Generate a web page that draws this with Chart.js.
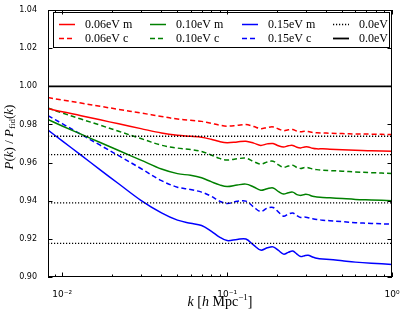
<!DOCTYPE html>
<html>
<head>
<meta charset="utf-8">
<script src="https://cdn.jsdelivr.net/npm/chart.js@4/dist/chart.umd.min.js"></script>
<style>
  body { margin: 0; background: #fff; }
  #wrap { width: 407px; height: 316px; }
</style>
</head>
<body>
<div id="wrap"><canvas id="ratio"></canvas></div>
<script>
// k values (h/Mpc) at which the curves were read
var kValues = [0.0082, 0.01, 0.013, 0.017, 0.022, 0.03, 0.04, 0.05, 0.06, 0.07, 0.08, 0.09,
  0.1, 0.115, 0.13, 0.145, 0.16, 0.175, 0.19, 0.205, 0.22, 0.235, 0.25, 0.265, 0.28, 0.295,
  0.31, 0.33, 0.35, 0.38, 0.42, 0.5, 0.6, 0.75, 1.0];

var m006 = [0.9883, 0.9866, 0.9846, 0.9824, 0.9803, 0.9778, 0.9755, 0.9743, 0.9738, 0.9733, 0.9722, 0.9710,
  0.9704, 0.9708, 0.9712, 0.9702, 0.9690, 0.9698, 0.9700, 0.9688, 0.9682, 0.9688, 0.9690, 0.9680, 0.9677, 0.9682,
  0.9682, 0.9675, 0.9672, 0.9672, 0.9670, 0.9667, 0.9665, 0.9662, 0.9660];
var c006 = [0.9941, 0.9928, 0.9912, 0.9895, 0.9879, 0.9860, 0.9842, 0.9828, 0.9822, 0.9816, 0.9806, 0.9796,
  0.9791, 0.9795, 0.9799, 0.9789, 0.9778, 0.9784, 0.9787, 0.9776, 0.9767, 0.9772, 0.9773, 0.9765, 0.9761, 0.9764,
  0.9763, 0.9758, 0.9756, 0.9755, 0.9754, 0.9752, 0.9750, 0.9749, 0.9747];
var m010 = [0.9826, 0.9792, 0.9749, 0.9705, 0.9663, 0.9613, 0.9566, 0.9542, 0.9533, 0.9520, 0.9500, 0.9483,
  0.9474, 0.9482, 0.9487, 0.9472, 0.9455, 0.9463, 0.9467, 0.9448, 0.9435, 0.9442, 0.9445, 0.9432, 0.9428, 0.9433,
  0.9432, 0.9423, 0.9420, 0.9417, 0.9415, 0.9411, 0.9407, 0.9404, 0.9400];
var c010 = [0.9886, 0.9860, 0.9828, 0.9796, 0.9764, 0.9726, 0.9691, 0.9676, 0.9668, 0.9658, 0.9640, 0.9622,
  0.9613, 0.9620, 0.9623, 0.9605, 0.9592, 0.9603, 0.9607, 0.9588, 0.9575, 0.9582, 0.9586, 0.9574, 0.9569, 0.9574,
  0.9573, 0.9566, 0.9563, 0.9560, 0.9558, 0.9555, 0.9551, 0.9547, 0.9543];
var m015 = [0.9770, 0.9714, 0.9639, 0.9562, 0.9489, 0.9402, 0.9336, 0.9298, 0.9282, 0.9270, 0.9241, 0.9209,
  0.9191, 0.9197, 0.9199, 0.9167, 0.9141, 0.9153, 0.9158, 0.9139, 0.9120, 0.9129, 0.9136, 0.9120, 0.9107, 0.9112,
  0.9114, 0.9105, 0.9098, 0.9094, 0.9092, 0.9085, 0.9078, 0.9072, 0.9066];
var c015 = [0.9846, 0.9804, 0.9748, 0.9691, 0.9636, 0.9569, 0.9505, 0.9471, 0.9459, 0.9445, 0.9424, 0.9398,
  0.9385, 0.9397, 0.9398, 0.9367, 0.9343, 0.9361, 0.9364, 0.9340, 0.9319, 0.9330, 0.9336, 0.9322, 0.9312, 0.9314,
  0.9311, 0.9306, 0.9302, 0.9298, 0.9295, 0.9290, 0.9285, 0.9281, 0.9277];

// horizontal reference levels
var dottedLevels = [0.9738, 0.9642, 0.9389, 0.9176];
var unityLevel = 1.0;

var kMin = 0.0082, kMax = 1.0;
var yTicks = [0.90, 0.92, 0.94, 0.96, 0.98, 1.00, 1.02, 1.04];
var xTicks = [0.01, 0.1, 1];
var xTickLabels = ['10\u207B\u00B2', '10\u207B\u00B9', '10\u2070'];

function pts(ys) {
  return kValues.map(function (k, i) { return { x: k, y: ys[i] }; });
}
var dottedPts = [];
dottedLevels.forEach(function (lv) {
  dottedPts.push({ x: kMin, y: lv }, { x: kMax, y: lv }, { x: kMax, y: null });
});

var RED = '#ff0000', GREEN = '#008000', BLUE = '#0000ff';
var DASH = [5, 3], DOT = [1.2, 1.8];

function curve(label, ys, color, dash, col, row) {
  return {
    label: label, data: pts(ys), borderColor: color, borderWidth: 1.5,
    borderDash: dash, pointRadius: 0, tension: 0.35,
    legendCol: col, legendRow: row
  };
}

var datasets = [
  { label: '0.0eV', data: dottedPts, borderColor: '#000', borderWidth: 1.3, borderDash: DOT,
    pointRadius: 0, spanGaps: false, legendCol: 3, legendRow: 0 },
  { label: '0.0eV', data: [{ x: kMin, y: unityLevel }, { x: kMax, y: unityLevel }], borderColor: '#000',
    borderWidth: 1.8, pointRadius: 0, legendCol: 3, legendRow: 1 },
  curve('0.06eV m', m006, RED, [], 0, 0),
  curve('0.06eV c', c006, RED, DASH, 0, 1),
  curve('0.10eV m', m010, GREEN, [], 1, 0),
  curve('0.10eV c', c010, GREEN, DASH, 1, 1),
  curve('0.15eV m', m015, BLUE, [], 2, 0),
  curve('0.15eV c', c015, BLUE, DASH, 2, 1)
];

// legend box drawn in matplotlib style (column-major)
var legendBox = {
  id: 'legendBox',
  afterDatasetsDraw: function (chart) {
    var ctx = chart.ctx;
    var colX = [59, 150, 242, 333], rowY = [24.5, 38.5];
    ctx.save();
    ctx.fillStyle = '#fff';
    ctx.fillRect(53, 12, 337, 36);
    ctx.strokeStyle = '#000';
    ctx.lineWidth = 1;
    ctx.setLineDash([]);
    ctx.strokeRect(53.5, 12.5, 336, 35);
    chart.data.datasets.forEach(function (ds) {
      var x = colX[ds.legendCol], y = rowY[ds.legendRow];
      ctx.strokeStyle = ds.borderColor;
      ctx.lineWidth = ds.borderWidth;
      ctx.setLineDash(ds.borderDash || []);
      ctx.beginPath();
      ctx.moveTo(x, y);
      ctx.lineTo(x + 16, y);
      ctx.stroke();
      ctx.setLineDash([]);
      ctx.fillStyle = '#000';
      ctx.font = '12px "Liberation Serif"';
      ctx.textBaseline = 'middle';
      ctx.textAlign = 'left';
      ctx.fillText(ds.label, x + 26, y + 0.5);
    });
    ctx.restore();
  }
};

// frame, inward ticks and axis titles
var frameTicks = {
  id: 'frameTicks',
  afterDraw: function (chart) {
    var ctx = chart.ctx, a = chart.chartArea;
    var xs = chart.scales.x, ys = chart.scales.y;
    ctx.save();
    ctx.strokeStyle = '#000';
    ctx.lineWidth = 1;
    ctx.setLineDash([]);
    ctx.strokeRect(Math.round(a.left) + 0.5, Math.round(a.top) + 0.5,
      Math.round(a.right - a.left) - 1, Math.round(a.bottom - a.top) - 1);
    ctx.beginPath();
    // x ticks: majors and minors
    for (var d = -3; d <= 0; d++) {
      for (var m = 1; m <= 9; m++) {
        var v = m * Math.pow(10, d);
        if (v < kMin - 1e-9 || v > kMax + 1e-9) continue;
        var px = Math.round(xs.getPixelForValue(v)) + 0.5;
        var len = m === 1 ? 4.5 : 2.5;
        ctx.moveTo(px, a.bottom); ctx.lineTo(px, a.bottom - len);
        ctx.moveTo(px, a.top); ctx.lineTo(px, a.top + len);
      }
    }
    yTicks.forEach(function (v) {
      var py = Math.round(ys.getPixelForValue(v)) + 0.5;
      ctx.moveTo(a.left, py); ctx.lineTo(a.left + 4.5, py);
      ctx.moveTo(a.right, py); ctx.lineTo(a.right - 4.5, py);
    });
    ctx.stroke();

    ctx.fillStyle = '#000';
    ctx.textBaseline = 'alphabetic';
    // y title: P(k)/P_fid(k)
    var big = 'italic 13px "Liberation Serif"', rbig = '13px "Liberation Serif"', sub = '9px "Liberation Serif"';
    var parts = [['P', big, 0], ['(', rbig, 0], ['k', big, 0], [')', rbig, 0], [' / ', rbig, 0], ['P', big, 0],
      ['fid', sub, 2.5], ['(', rbig, 0], ['k', big, 0], [')', rbig, 0]];
    ctx.save();
    ctx.translate(12.5, 137);
    ctx.rotate(-Math.PI / 2);
    var w = 0;
    parts.forEach(function (p) { ctx.font = p[1]; w += ctx.measureText(p[0]).width; });
    var x = -w / 2;
    parts.forEach(function (p) { ctx.font = p[1]; ctx.fillText(p[0], x, p[2]); x += ctx.measureText(p[0]).width; });
    ctx.restore();

    // x title: k [h Mpc^-1]
    var rom = '14px "Liberation Serif"', it = 'italic 14px "Liberation Serif"', sup = '9px "Liberation Serif"';
    var xparts = [['k', it, 0], [' [', rom, 0], ['h', it, 0], [' Mpc', rom, 0], ['\u22121', sup, -6], [']', rom, 0]];
    w = 0;
    xparts.forEach(function (p) { ctx.font = p[1]; w += ctx.measureText(p[0]).width; });
    x = (a.left + a.right) / 2 - w / 2;
    xparts.forEach(function (p) { ctx.font = p[1]; ctx.fillText(p[0], x, 306 + p[2]); x += ctx.measureText(p[0]).width; });
    ctx.restore();
  }
};

Chart.defaults.font.family = '"DejaVu Sans"';
Chart.defaults.color = '#000';

new Chart(document.getElementById('ratio').getContext('2d'), {
  type: 'line',
  data: { datasets: datasets },
  options: {
    responsive: true,
    maintainAspectRatio: false,
    animation: false,
    layout: { padding: { top: 10, right: 15, left: 0, bottom: 0 } },
    plugins: { legend: { display: false }, tooltip: { enabled: false } },
    scales: {
      x: {
        type: 'logarithmic', min: kMin, max: kMax,
        grid: { display: false }, border: { display: false },
        afterBuildTicks: function (s) { s.ticks = xTicks.map(function (v) { return { value: v }; }); },
        afterFit: function (s) { s.height = 39; },
        ticks: {
          autoSkip: false, maxRotation: 0, padding: 4, font: { size: 9 },
          callback: function (v) { return xTickLabels[xTicks.indexOf(v)]; }
        }
      },
      y: {
        type: 'linear', min: 0.9, max: 1.04,
        grid: { display: false }, border: { display: false },
        afterBuildTicks: function (s) { s.ticks = yTicks.map(function (v) { return { value: v }; }); },
        afterFit: function (s) { s.width = 48; },
        ticks: {
          autoSkip: false, padding: 3, font: { size: 8 },
          callback: function (v) { return v.toFixed(2); }
        }
      }
    }
  },
  plugins: [legendBox, frameTicks]
});
</script>
</body>
</html>
